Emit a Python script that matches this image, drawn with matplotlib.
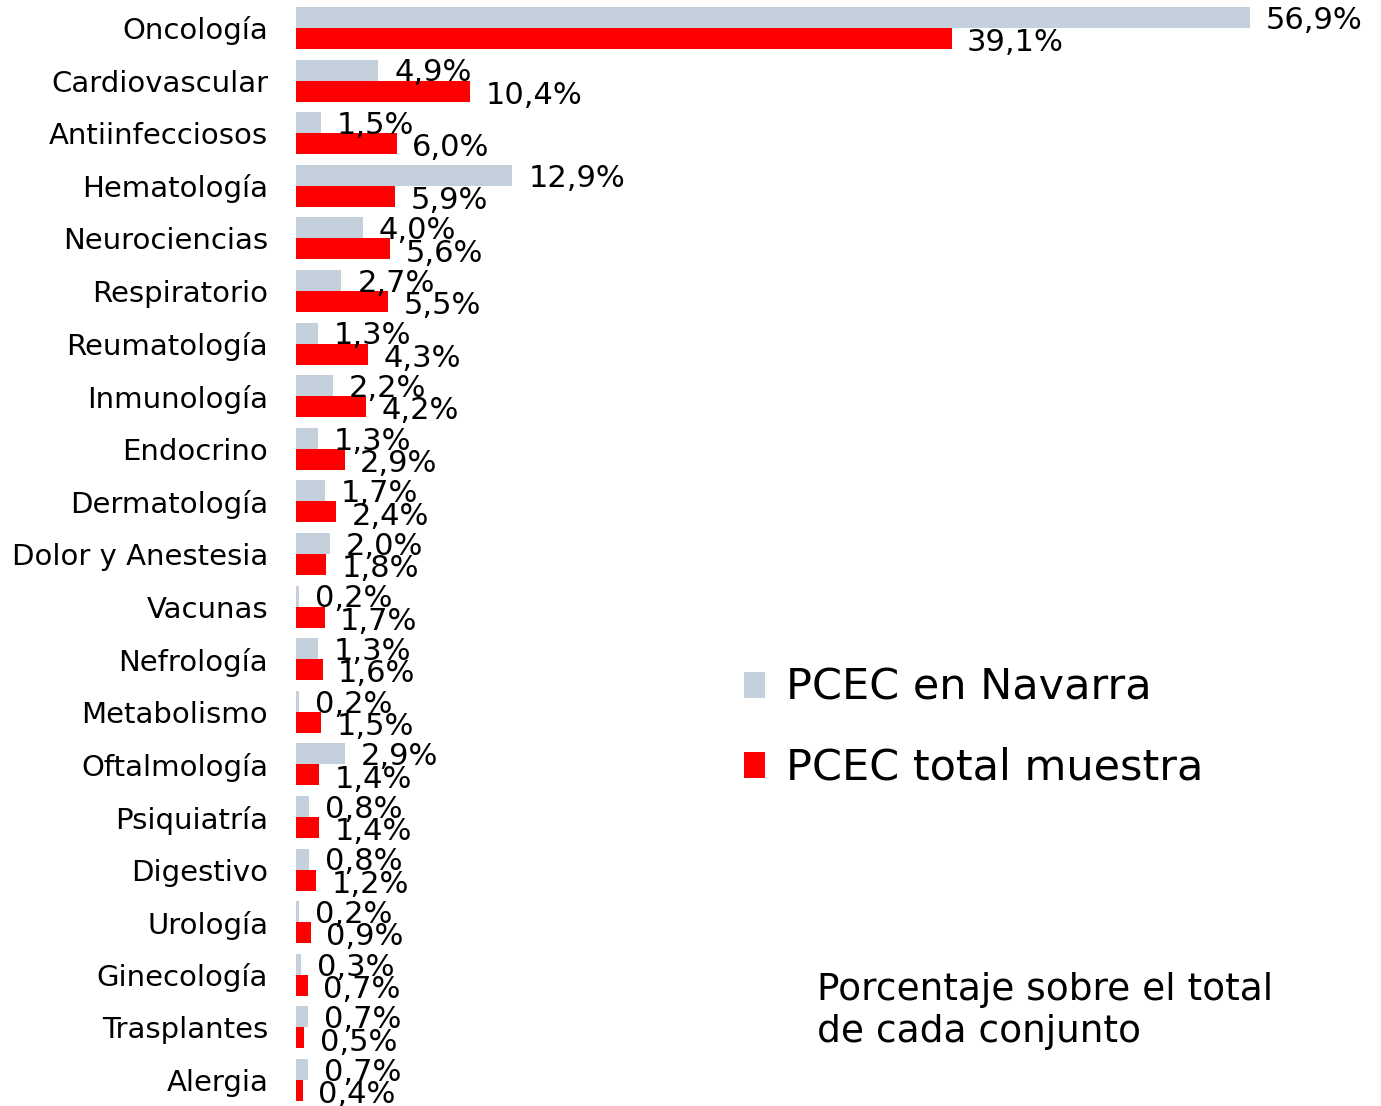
import matplotlib.pyplot as plt
import numpy as np

areas = ['Oncología', 'Cardiovascular', 'Antiinfecciosos', 'Hematología', 'Neurociencias',
         'Respiratorio', 'Reumatología', 'Inmunología', 'Endocrino', 'Dermatología',
         'Dolor y Anestesia', 'Vacunas', 'Nefrología', 'Metabolismo', 'Oftalmología',
         'Psiquiatría', 'Digestivo', 'Urología', 'Ginecología', 'Trasplantes', 'Alergia']
navarra = [56.9, 4.9, 1.5, 12.9, 4.0, 2.7, 1.3, 2.2, 1.3, 1.7, 2.0,
           0.2, 1.3, 0.2, 2.9, 0.8, 0.8, 0.2, 0.3, 0.7, 0.7]
total = [39.1, 10.4, 6.0, 5.9, 5.6, 5.5, 4.3, 4.2, 2.9, 2.4, 1.8,
         1.7, 1.6, 1.5, 1.4, 1.4, 1.2, 0.9, 0.7, 0.5, 0.4]

grey = '#C4D0DB'
red = '#FF0000'

fig = plt.figure(figsize=(13.81, 11.06), dpi=100)
ax = fig.add_axes([296/1381, 0, 1 - 296/1381, 1])

y = np.arange(len(areas))
b1 = ax.barh(y - 0.2, navarra, height=0.4, color=grey, label='PCEC en Navarra')
b2 = ax.barh(y + 0.2, total, height=0.4, color=red, label='PCEC total muestra')

def fmt(v):
    return ('%.1f%%' % v).replace('.', ',')

for i in range(len(areas)):
    ax.annotate(fmt(navarra[i]), (navarra[i], y[i] - 0.2), xytext=(11.5, -2),
                textcoords='offset points', va='center', ha='left', fontsize=22)
    ax.annotate(fmt(total[i]), (total[i], y[i] + 0.2), xytext=(11, -3),
                textcoords='offset points', va='center', ha='left', fontsize=22)

ax.set_xlim(0, 1085/16.77)
ax.set_ylim(20.494, -0.532)
ax.set_yticks(y)
ax.set_yticklabels(areas, fontsize=21)
ax.tick_params(axis='y', length=0, pad=20)
ax.set_xticks([])
for s in ax.spines.values():
    s.set_visible(False)

ax.legend(handles=[b1, b2], loc='upper left', bbox_to_anchor=(744/1381, 1 - 667/1106),
          bbox_transform=fig.transFigure, frameon=False, fontsize=31, borderpad=0,
          borderaxespad=0, handlelength=0.48, handleheight=0.55, handletextpad=0.5,
          labelspacing=0.88)

fig.text(817/1381, 1 - 972/1106, 'Porcentaje sobre el total\nde cada conjunto',
         fontsize=27, va='top', ha='left', linespacing=1.22)

plt.savefig('out.png', dpi=100)
